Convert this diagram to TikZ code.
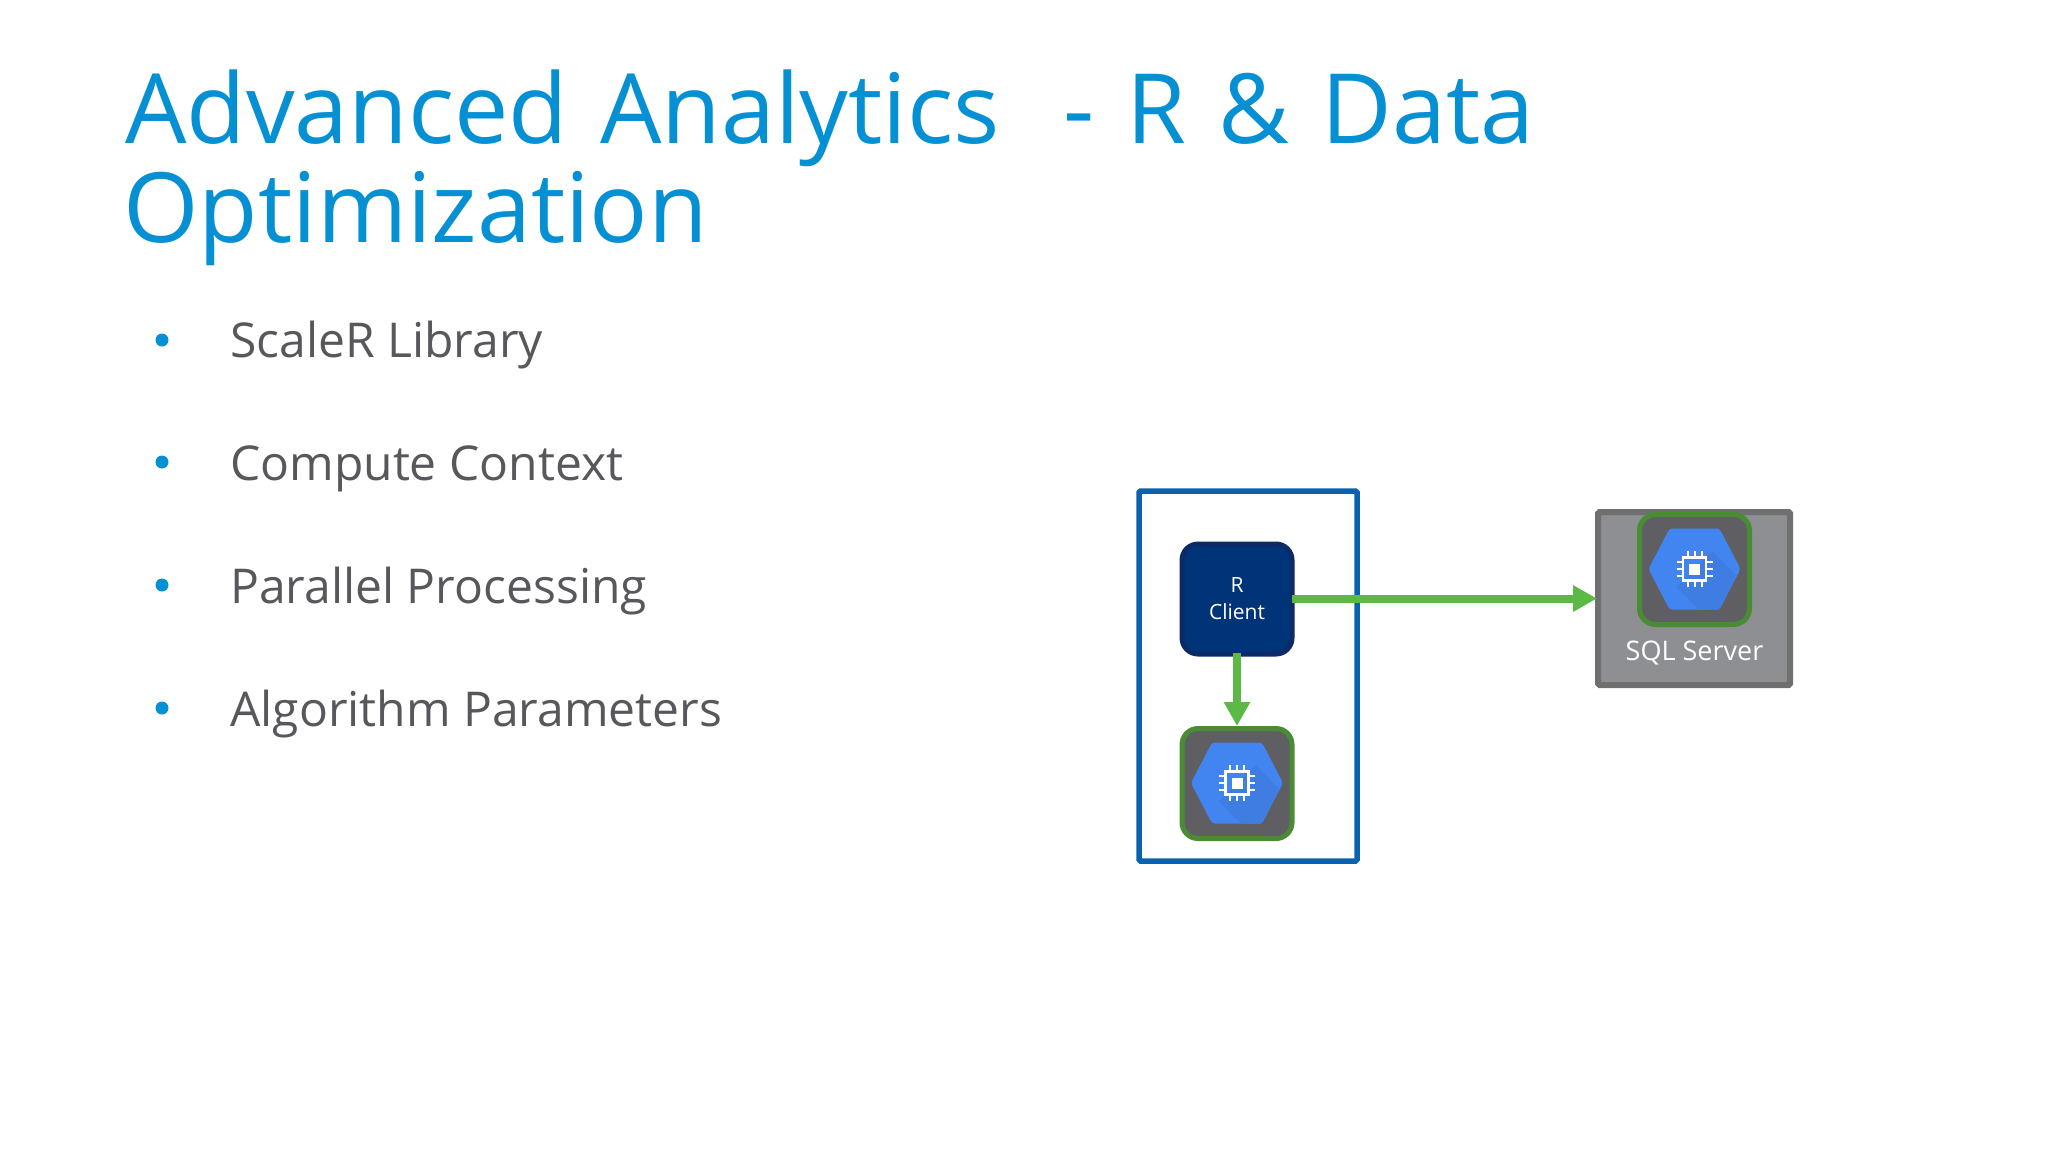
\documentclass[tikz,border=0pt]{standalone}
\usepackage{fontspec}
\setmainfont{Open Sans}
\usetikzlibrary{arrows.meta}
\definecolor{titleblue}{HTML}{0690D4}
\definecolor{textgray}{HTML}{58585C}
\definecolor{boxblue}{HTML}{0A62AE}
\definecolor{clientfill}{HTML}{003478}
\definecolor{clientline}{HTML}{0B2A66}
\definecolor{chipgreen}{HTML}{4A8C33}
\definecolor{chipfill}{HTML}{5F5F63}
\definecolor{hexblue}{HTML}{4285F0}
\definecolor{hexdark}{HTML}{3F7DE2}
\definecolor{sqlfill}{HTML}{8E8F92}
\definecolor{sqlline}{HTML}{6F6F70}
\definecolor{flowgreen}{HTML}{5CB946}
\tikzset{
	titletext/.style={anchor=base west, inner sep=0pt, text=titleblue, font=\fontsize{97}{97}\selectfont},
	itemtext/.style={anchor=base west, inner sep=0pt, text=textgray, font=\fontsize{48}{48}\selectfont},
	bulletdot/.style={circle, fill=titleblue, inner sep=0pt, minimum size=13pt},
	iconbox/.style={draw=chipgreen, fill=chipfill, line width=5pt, rounded corners=16pt, minimum size=110pt, inner sep=0pt},
	flow/.style={draw=flowgreen, line width=8pt, -{Triangle[length=24pt,width=25pt]}},
}
\newcommand{\wsp}{\hspace{32pt}}
% chip icon, hexagon with a small processor in the middle
\newcommand{\chipicon}[1]{
	\begin{scope}[shift={(#1)}]
		\fill[hexblue, rounded corners=3pt] (-46,0)--(-25,-40.5)--(25,-40.5)--(46,0)--(25,40.5)--(-25,40.5)--cycle;
		\fill[hexdark] (-18,18)--(4,40.5)--(24,40.5)--(42.6,6.6)--(18,-18)--cycle;
		\draw[white, line width=2.5pt] (-11.5,-11.5) rectangle (11.5,11.5);
		\fill[white] (-5.5,-5.5) rectangle (5.5,5.5);
		\foreach \t in {-7,0,7}{
			\draw[white, line width=2pt] (\t,-18)--(\t,-12) (\t,12)--(\t,18);
			\draw[white, line width=2pt] (-18,\t)--(-12,\t) (12,\t)--(18,\t);
		}
	\end{scope}
}
\begin{document}
\begin{tikzpicture}[x=1pt, y=-1pt]
	\useasboundingbox (0,0) rectangle (2048,1152);
	
	\node[titletext] (title1) at (125,143) {Advanced\wsp Analytics\wsp\wsp -\wsp R\wsp \&\wsp Data};
	\node[titletext] (title2) at (123,242) {Optimization};
	
	\node[bulletdot] (b1) at (162,340) {};
	\node[bulletdot] (b2) at (162,462) {};
	\node[bulletdot] (b3) at (162,585) {};
	\node[bulletdot] (b4) at (162,708) {};
	\node[itemtext] (item1) at (230,357) {ScaleR Library};
	\node[itemtext] (item2) at (230,480) {Compute Context};
	\node[itemtext] (item3) at (230,603) {Parallel Processing};
	\node[itemtext] (item4) at (230,726) {Algorithm Parameters};
	
	\node[draw=boxblue, line width=5.5pt, rounded corners=1.5pt, minimum width=218pt, minimum height=370pt, inner sep=0pt] (clientbox) at (1248,676) {};
	\node[draw=sqlline, fill=sqlfill, line width=6pt, rounded corners=1.5pt, minimum width=192pt, minimum height=173pt, inner sep=0pt] (sqlbox) at (1694,598.5) {};
	
	\node[draw=clientline, fill=clientfill, line width=5pt, rounded corners=16pt, minimum size=110pt, inner sep=0pt, text=white, align=center, font=\fontsize{21}{27}\selectfont] (rclient) at (1237,599) {R\\Client};
	\node[iconbox] (localchip) at (1237,783.5) {};
	\node[iconbox] (sqlchip) at (1694.5,569.5) {};
	\chipicon{1237,783}
	\chipicon{1694.5,569}
	\node[text=white, inner sep=0pt, anchor=base, font=\fontsize{27}{27}\selectfont] (sqllabel) at (1694.5,660) {SQL Server};
	
	\draw[flow, shorten <=-3.5pt] (rclient) -- (localchip);
	\draw[flow, shorten <=-2.5pt, shorten >=-2pt] (rclient.east |- sqlbox.west) -- (sqlbox.west);
	
\end{tikzpicture}
\end{document}
